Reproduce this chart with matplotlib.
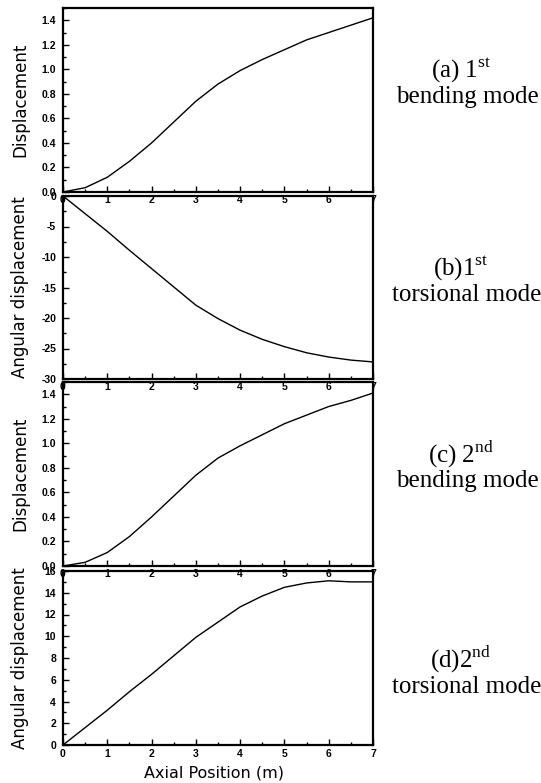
import matplotlib
matplotlib.use("Agg")
import matplotlib.pyplot as plt
from matplotlib.ticker import MultipleLocator

plt.rcParams['axes.unicode_minus'] = False
plt.rcParams['mathtext.fontset'] = 'custom'
plt.rcParams['mathtext.rm'] = 'Liberation Serif'

x_pos = [0, 0.5, 1, 1.5, 2, 2.5, 3, 3.5, 4, 4.5, 5, 5.5, 6, 6.5, 7]
bend1 = [0, 0.035, 0.12, 0.25, 0.40, 0.57, 0.74, 0.88, 0.99, 1.08, 1.16, 1.24, 1.30, 1.36, 1.42]
tors1 = [0, -2.9, -5.8, -8.9, -11.9, -14.9, -17.9, -20.1, -22.0, -23.5, -24.7, -25.7, -26.4, -26.9, -27.2]
bend2 = [0, 0.03, 0.11, 0.24, 0.40, 0.57, 0.74, 0.88, 0.98, 1.07, 1.16, 1.23, 1.30, 1.35, 1.41]
tors2 = [0, 1.6, 3.2, 4.9, 6.5, 8.2, 9.9, 11.3, 12.7, 13.7, 14.5, 14.9, 15.1, 15.0, 15.0]

ylabels = ["Displacement", "Angular displacement", "Displacement", "Angular displacement"]
captions = [("(a) 1$^{\\rm st}$", "bending mode"),
            ("(b)1$^{\\rm st}$", "torsional mode"),
            ("(c) 2$^{\\rm nd}$", "bending mode"),
            ("(d)2$^{\\rm nd}$", "torsional mode")]
xlabel = "Axial Position (m)"

W, H = 541, 783
fig = plt.figure(figsize=(W / 100, H / 100), dpi=100)

# pixel boxes (top, bottom)
boxes = [(8, 192), (196, 379), (382, 566), (571, 745)]
left_px, right_px = 63, 373
series = [bend1, tors1, bend2, tors2]
ylims = [(0, 1.5), (-30, 0), (0, 1.5), (0, 16)]
ymaj = [0.2, 5, 0.2, 2]
ymin = [0.1, 2.5, 0.1, 1]
yfmt = ["{:.1f}", "{:.0f}", "{:.1f}", "{:.0f}"]
cap_y = [(70, 97), (268, 295), (455, 481), (660, 687)]

for i, ((t, b), ys) in enumerate(zip(boxes, series)):
    ax = fig.add_axes([left_px / W, 1 - b / H, (right_px - left_px) / W, (b - t) / H])
    ax.set_facecolor('none')
    ax.plot(x_pos, ys, color='black', lw=1.0)
    ax.set_xlim(0, 7)
    ax.set_ylim(*ylims[i])
    ax.xaxis.set_major_locator(MultipleLocator(1))
    ax.xaxis.set_minor_locator(MultipleLocator(0.5))
    ax.yaxis.set_major_locator(MultipleLocator(ymaj[i]))
    ax.yaxis.set_minor_locator(MultipleLocator(ymin[i]))
    fmt = yfmt[i]
    ax.yaxis.set_major_formatter(plt.FuncFormatter(lambda v, p, f=fmt: f.format(v)))
    ax.tick_params(which='both', direction='in', top=False, right=False,
                   width=1.0, labelsize=7.5)
    ax.tick_params(which='major', length=4)
    ax.tick_params(which='minor', length=2)
    ax.tick_params(axis='y', pad=5)
    ax.tick_params(axis='x', pad=2 if i < 3 else 3)
    for lab in ax.get_xticklabels() + ax.get_yticklabels():
        lab.set_fontfamily('Liberation Sans')
        lab.set_fontweight('bold')
    for s in ax.spines.values():
        s.set_linewidth(1.6)
    fig.text(20 / W, 1 - (t + b) / 2 / H, ylabels[i], rotation=90,
             ha='center', va='center', fontsize=12, family='DejaVu Sans')
    c1, c2 = captions[i]
    fig.text(461 / W, 1 - cap_y[i][0] / H, c1, ha='center', va='center',
             fontsize=18, family='Liberation Serif')
    fig.text(467 / W, 1 - cap_y[i][1] / H, c2, ha='center', va='center',
             fontsize=18, family='Liberation Serif')

fig.text(214 / W, 1 - 773 / H, xlabel, ha='center', va='center',
         fontsize=11.5, family='DejaVu Sans')

fig.savefig("out.png", dpi=100)
